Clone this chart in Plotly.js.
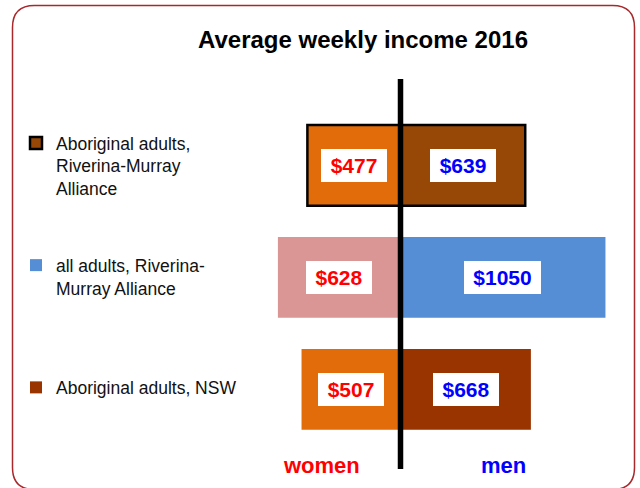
<!DOCTYPE html>
<html>
<head>
<meta charset="utf-8">
<script src="https://cdn.plot.ly/plotly-3.0.1.min.js"></script>
<style>
html, body { margin: 0; padding: 0; background: #ffffff; }
#chart { width: 640px; height: 488px; }
</style>
</head>
<body>
<div id="chart"></div>
<script>
// ---- data ----
const titleText = 'Average weekly income 2016';
const groups = [
  'Aboriginal adults, Riverina-Murray Alliance',
  'all adults, Riverina-Murray Alliance',
  'Aboriginal adults, NSW'
];
const legendLabels = [
  'Aboriginal adults,<br>Riverina-Murray<br>Alliance',
  'all adults, Riverina-<br>Murray Alliance<br>&nbsp;',
  'Aboriginal adults, NSW'
];
const women = [477, 628, 507];
const men = [639, 1050, 668];
const sexLabels = ['women', 'men'];

// ---- styles ----
const womenColors = ['#E36C0A', '#D99694', '#E36C0A'];
const menColors = ['#974806', '#558ED5', '#993300'];
const outlineWidths = [2.5, 0, 0];
const FONT = 'Liberation Sans, Arial, Helvetica, sans-serif';
const W = 640, H = 488;
const px = x => x / W;
const py = y => 1 - y / H;

const traces = groups.map((g, i) => ({
  type: 'bar',
  orientation: 'h',
  name: legendLabels[i],
  legendgroup: 'g' + i,
  y: [g, g],
  x: [men[i], -women[i]],
  width: 0.72,
  marker: {
    color: [menColors[i], womenColors[i]],
    line: { color: '#000000', width: outlineWidths[i] }
  },
  hoverinfo: 'none'
}));

function valueLabel(v, xval, y, color) {
  const txt = '$' + v;
  return {
    xref: 'x', yref: 'y', x: xval, y: y,
    text: '<b>' + txt + '</b>',
    showarrow: false,
    bgcolor: '#ffffff',
    borderpad: 0,
    borderwidth: 0,
    width: Math.round(txt.length * 0.556 * 21 + 19),
    height: 33,
    font: { family: FONT, size: 21, color: color }
  };
}

const annotations = [];
groups.forEach((g, i) => {
  annotations.push(valueLabel(women[i], -women[i] / 2, g, '#FF0000'));
  annotations.push(valueLabel(men[i], men[i] / 2, g, '#0000FF'));
});
annotations.push({
  xref: 'paper', yref: 'paper', x: px(321), y: py(465),
  text: '<b>' + sexLabels[0] + '</b>', showarrow: false,
  xanchor: 'center', yanchor: 'middle',
  font: { family: FONT, size: 22, color: '#FF0000' }
});
annotations.push({
  xref: 'paper', yref: 'paper', x: px(503.7), y: py(465),
  text: '<b>' + sexLabels[1] + '</b>', showarrow: false,
  xanchor: 'center', yanchor: 'middle',
  font: { family: FONT, size: 22, color: '#0000FF' }
});

// rounded frame in paper coordinates
const L = 12.5, T = 5.5, R = 634.5, B = 489.5, RAD = 22;
const framePath =
  'M' + px(L) + ',' + py(T + RAD) +
  ' Q' + px(L) + ',' + py(T) + ' ' + px(L + RAD) + ',' + py(T) +
  ' L' + px(R - RAD) + ',' + py(T) +
  ' Q' + px(R) + ',' + py(T) + ' ' + px(R) + ',' + py(T + RAD) +
  ' L' + px(R) + ',' + py(B - RAD) +
  ' Q' + px(R) + ',' + py(B) + ' ' + px(R - RAD) + ',' + py(B) +
  ' L' + px(L + RAD) + ',' + py(B) +
  ' Q' + px(L) + ',' + py(B) + ' ' + px(L) + ',' + py(B - RAD) + ' Z';

const zeroPx = 400.5, scale = 0.1952; // px per dollar
const layout = {
  width: W, height: H,
  margin: { l: 0, r: 0, t: 0, b: 0, pad: 0 },
  paper_bgcolor: '#ffffff',
  plot_bgcolor: 'rgba(0,0,0,0)',
  barmode: 'overlay',
  font: { family: FONT, color: '#111111' },
  title: {
    text: '<b>' + titleText + '</b>',
    font: { family: FONT, size: 24, color: '#000000' },
    x: px(363), xref: 'paper', xanchor: 'center',
    y: py(40), yref: 'container', yanchor: 'middle'
  },
  xaxis: {
    range: [-zeroPx / scale, (W - zeroPx) / scale],
    showgrid: false, zeroline: false, showticklabels: false, showline: false,
    ticks: '', fixedrange: true
  },
  yaxis: {
    type: 'category',
    categoryorder: 'array',
    categoryarray: groups.slice().reverse(),
    range: [-0.881, 3.476],
    showgrid: false, zeroline: false, showticklabels: false, showline: false,
    ticks: '', fixedrange: true
  },
  showlegend: true,
  legend: {
    x: px(16), xanchor: 'left',
    y: py(125), yanchor: 'top',
    valign: 'top',
    traceorder: 'grouped',
    tracegroupgap: 51,
    bgcolor: 'rgba(0,0,0,0)',
    borderwidth: 0,
    font: { family: FONT, size: 17.5, color: '#111111' }
  },
  shapes: [
    {
      type: 'line', xref: 'x', yref: 'paper',
      x0: 0, x1: 0, y0: py(469), y1: py(79),
      line: { color: '#000000', width: 5.5 }
    },
    {
      type: 'path', xref: 'paper', yref: 'paper',
      path: framePath,
      line: { color: '#A8282C', width: 1.5 },
      layer: 'below'
    }
  ],
  annotations: annotations
};

Plotly.newPlot('chart', traces, layout, { displayModeBar: false, staticPlot: true });
</script>
</body>
</html>
